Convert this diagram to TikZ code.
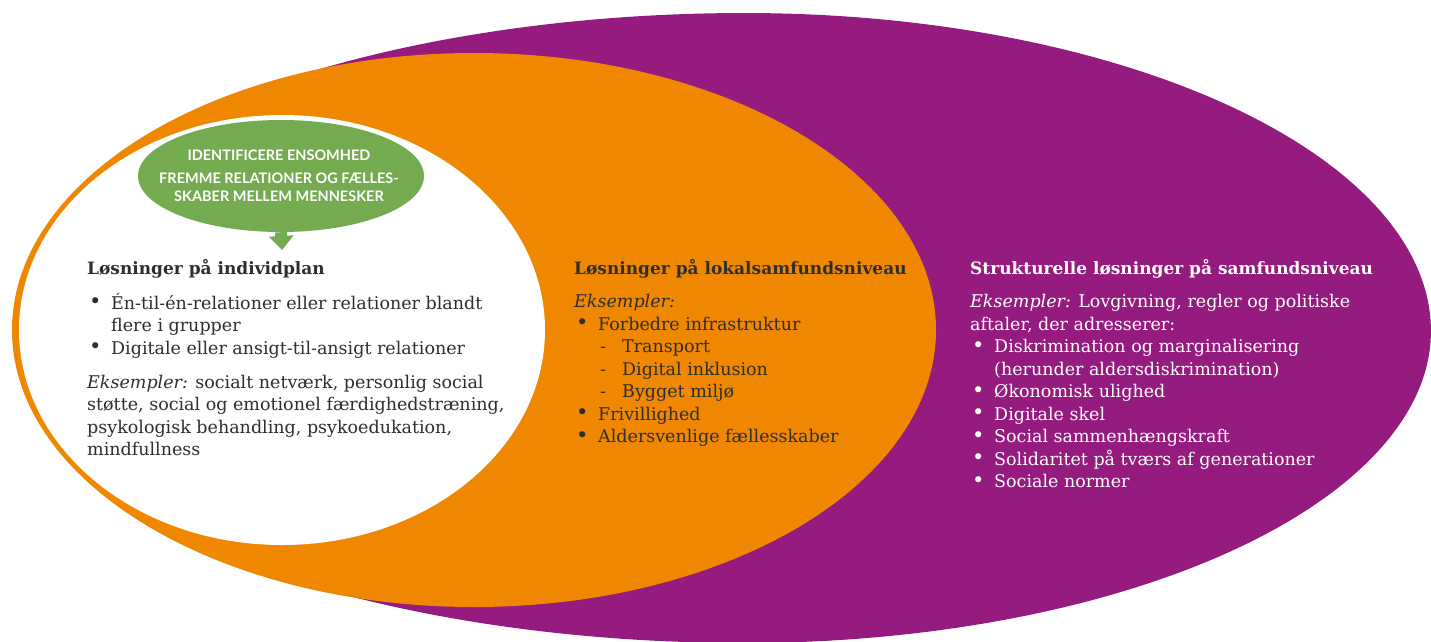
\documentclass[tikz,border=0pt]{standalone}
\usepackage{fontspec}
\setmainfont{DejaVu Serif}
\newfontfamily\capsfont{Lato}
\usetikzlibrary{shapes.geometric,arrows.meta}
\definecolor{plum}{HTML}{951B7F}
\definecolor{tangerine}{HTML}{F08700}
\definecolor{leaf}{HTML}{74AA50}
\definecolor{ink}{HTML}{2E2E2E}
% list helpers: bullet, dash and hanging indent
\newcommand\bul{\makebox[24pt][l]{\hspace{2pt}\raisebox{0.3pt}{\scalebox{1.2}{•}}}}
\newcommand\dsh{\makebox[24pt][l]{\hspace{2pt}-}}
\newcommand\hang{\hspace*{24pt}}
\newcommand\head[1]{{\fontsize{17}{22.5}\selectfont\bfseries\strut #1}}
\begin{document}
\begin{tikzpicture}[x=1pt,y=-1pt,
  block/.style={anchor=north west, inner sep=0pt, align=left,
                font=\fontsize{17.5}{22.5}\selectfont},
  capsline/.style={anchor=north, inner sep=0pt, align=center, text=white,
                font=\capsfont\bfseries\fontsize{14.5}{18}\selectfont},
  quarter/.style={samples=40, smooth},
]
\useasboundingbox (0,0) rectangle (1431,641);
% outer level: society -- four quarter ellipses round (745,331),
% the far left end cut off where the orange level covers it
\fill[plum]
  plot[quarter, domain=-90:0]      ({745+686*cos(\x)},{331+318*sin(\x)})
  -- plot[quarter, domain=0:90]    ({745+686*cos(\x)},{331+312*sin(\x)})
  -- plot[quarter, domain=90:145]  ({745+750*cos(\x)},{331+312*sin(\x)})
  -- plot[quarter, domain=215:270] ({745+750*cos(\x)},{331+318*sin(\x)})
  -- cycle;
% middle level: local community
\fill[tangerine] (474,330) ellipse [x radius=462pt, y radius=277pt];
% inner level: individual
\fill[white] (282,330) ellipse [x radius=263pt, y radius=215pt];

% goal bubble with arrow down to the individual level
\node[ellipse, fill=leaf, minimum width=286pt, minimum height=112pt, inner sep=0pt] (goal) at (281,176) {};
\node[capsline] (goaltext) at (279,147.4)
  {\strut IDENTIFICERE ENSOMHED\\[5pt]FREMME RELATIONER OG FÆLLES-\\SKABER MELLEM MENNESKER};
\coordinate (tip) at (282,250);
\draw[leaf, line width=12pt, -{Triangle[width=24pt,length=14pt]}] (goal.south) -- (tip);

% individual level
\node[block, text=ink] (individ) at (87,258.25) {%
\head{Løsninger på individplan}\\[11pt]
\bul Én-til-én-relationer eller relationer blandt\\
\hang flere i grupper\\
\bul Digitale eller ansigt-til-ansigt relationer\\[11.5pt]
\textit{Eksempler:} socialt netværk, personlig social\\
støtte, social og emotionel færdighedstræning,\\
psykologisk behandling, psykoedukation,\\
mindfullness};

% local community level
\node[block, text=ink] (lokal) at (574,258.25) {%
\head{Løsninger på lokalsamfundsniveau}\\[11pt]
\textit{Eksempler:}\\
\bul Forbedre infrastruktur\\
\hang\dsh Transport\\
\hang\dsh Digital inklusion\\
\hang\dsh Bygget miljø\\
\bul Frivillighed\\
\bul Aldersvenlige fællesskaber};

% structural level
\node[block, text=white] (struktur) at (970,258.25) {%
\head{Strukturelle løsninger på samfundsniveau}\\[11pt]
\textit{Eksempler:} Lovgivning, regler og politiske\\
aftaler, der adresserer:\\
\bul Diskrimination og marginalisering\\
\hang (herunder aldersdiskrimination)\\
\bul Økonomisk ulighed\\
\bul Digitale skel\\
\bul Social sammenhængskraft\\
\bul Solidaritet på tværs af generationer\\
\bul Sociale normer};
\end{tikzpicture}
\end{document}
